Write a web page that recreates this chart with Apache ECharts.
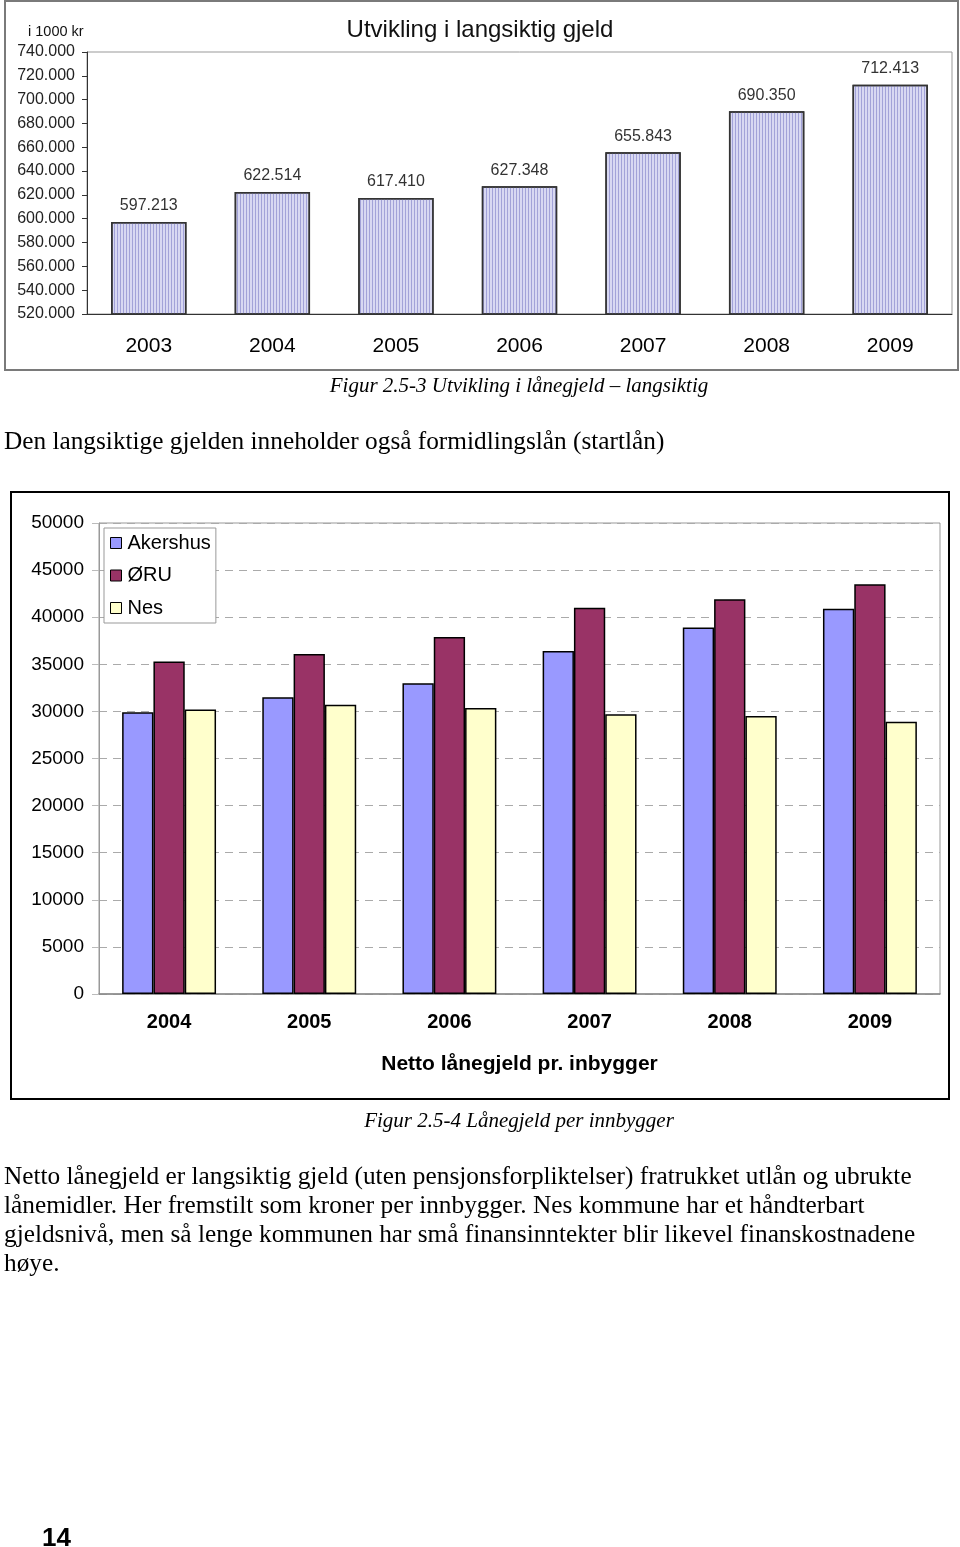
<!DOCTYPE html>
<html>
<head>
<meta charset="utf-8">
<script src="https://cdn.jsdelivr.net/npm/echarts@6/dist/echarts.min.js"></script>
<style>
  html, body { margin: 0; padding: 0; background: #fff; }
  #wrap { position: relative; width: 960px; height: 1547px; overflow: hidden; }
  #chart { position: absolute; left: 0; top: 0; width: 960px; height: 1547px; }
  .t { position: absolute; font-family: "Liberation Serif", "Times New Roman", serif; color: #000; white-space: nowrap; }
</style>
</head>
<body>
<div id="wrap">
  <div id="chart"></div>
  <div class="t" style="left:0;width:1038px;text-align:center;top:372px;font-size:21px;font-style:italic;line-height:26px;">Figur 2.5-3 Utvikling i lånegjeld – langsiktig</div>
  <div class="t" style="left:4px;top:426px;font-size:25.3px;line-height:29px;">Den langsiktige gjelden inneholder også formidlingslån (startlån)</div>
  <div class="t" style="left:0;width:1038px;text-align:center;top:1107px;font-size:21px;font-style:italic;line-height:26px;">Figur 2.5-4 Lånegjeld per innbygger</div>
  <div class="t" style="left:4px;top:1161px;font-size:25.3px;line-height:29px;">Netto lånegjeld er langsiktig gjeld (uten pensjonsforpliktelser) fratrukket utlån og ubrukte<br>lånemidler. Her fremstilt som kroner per innbygger. Nes kommune har et håndterbart<br>gjeldsnivå, men så lenge kommunen har små finansinntekter blir likevel finanskostnadene<br>høye.</div>
  <div style="position:absolute;left:42px;top:1522px;font-family:'Liberation Sans',Arial,sans-serif;font-weight:bold;font-size:26px;line-height:30px;">14</div>
</div>
<script>
// ---- Chart 1: Utvikling i langsiktig gjeld (i 1000 kr, shown as thousands) ----
const years1 = ['2003', '2004', '2005', '2006', '2007', '2008', '2009'];
const gjeld = [597.213, 622.514, 617.410, 627.348, 655.843, 690.350, 712.413];

// ---- Chart 2: Netto lånegjeld pr. inbygger ----
const years2 = ['2004', '2005', '2006', '2007', '2008', '2009'];
const akershus = [29900, 31500, 33000, 36400, 38900, 40900];
const oru = [35300, 36100, 37900, 41000, 41900, 43500];
const nes = [30200, 30700, 30350, 29700, 29500, 28900];
const seriesNames = ['Akershus', 'ØRU', 'Nes'];

const sans = '"Liberation Sans", Arial, sans-serif';
const chart = echarts.init(document.getElementById('chart'), null, { renderer: 'canvas' });

chart.setOption({
  animation: false,
  textStyle: { fontFamily: sans },
  title: [
    { text: 'Utvikling i langsiktig gjeld', left: 'center', top: 13,
      textStyle: { fontFamily: sans, fontSize: 24, fontWeight: 'normal', color: '#111' } },
    { text: 'i 1000 kr', left: 23, top: 19,
      textStyle: { fontFamily: sans, fontSize: 14.5, fontWeight: 'normal', color: '#111' } }
  ],
  legend: {
    data: seriesNames,
    orient: 'vertical',
    left: 104, top: 528,
    itemWidth: 11, itemHeight: 11, itemGap: 12.5,
    padding: [5, 5, 5, 6],
    backgroundColor: '#fff',
    borderColor: '#999', borderWidth: 1,
    icon: 'rect',
    itemStyle: { borderColor: '#000', borderWidth: 1 },
    textStyle: { fontFamily: sans, fontSize: 20, color: '#000', padding: [0, 0, 0, 1] }
  },
  graphic: [
    { type: 'rect', z: -10, shape: { x: 5, y: 1, width: 953, height: 369 },
      style: { fill: 'none', stroke: '#7a7a7a', lineWidth: 2 } },
    { type: 'rect', z: -10, shape: { x: 11, y: 492, width: 938, height: 607 },
      style: { fill: 'none', stroke: '#000', lineWidth: 2 } }
  ],
  grid: [
    { left: 87, top: 52, width: 865, height: 262, show: true, borderColor: '#999', borderWidth: 1, containLabel: false },
    { left: 99, top: 523, width: 841, height: 471, show: true, borderColor: '#999', borderWidth: 1, containLabel: false }
  ],
  xAxis: [
    { type: 'category', gridIndex: 0, data: years1,
      axisLine: { lineStyle: { color: '#333', width: 1 } },
      axisTick: { length: 6, lineStyle: { color: '#333' } },
      axisLabel: { fontSize: 21, color: '#000', margin: 22 } },
    { type: 'category', gridIndex: 1, data: years2,
      axisLine: { lineStyle: { color: '#888', width: 1.5 } },
      axisTick: { length: 43, lineStyle: { color: '#bbb' } },
      axisLabel: { fontSize: 20, fontWeight: 'bold', color: '#000', margin: 18 } },
    { type: 'category', gridIndex: 1, data: ['Netto lånegjeld pr. inbygger'], position: 'bottom',
      axisLine: { show: false },
      axisTick: { length: 84, lineStyle: { color: '#bbb' } },
      axisLabel: { fontSize: 21, fontWeight: 'bold', color: '#000', margin: 60 } }
  ],
  yAxis: [
    { type: 'value', gridIndex: 0, min: 520, max: 740, interval: 20,
      axisLine: { show: true, lineStyle: { color: '#333' } },
      axisTick: { show: true, length: 5, lineStyle: { color: '#333' } },
      splitLine: { show: false },
      axisLabel: { fontSize: 16, color: '#222', margin: 12, formatter: v => v.toFixed(3) } },
    { type: 'value', gridIndex: 1, min: 0, max: 50000, interval: 5000,
      axisLine: { show: true, lineStyle: { color: '#999' } },
      axisTick: { show: true, length: 7, lineStyle: { color: '#bbb' } },
      splitLine: { show: true, lineStyle: { color: '#aaa', type: [8, 6], width: 1 } },
      axisLabel: { fontSize: 19, color: '#000', margin: 15, formatter: v => String(v) } }
  ],
  series: [
    { name: 'Langsiktig gjeld', type: 'bar', xAxisIndex: 0, yAxisIndex: 0, data: gjeld,
      barWidth: '61%',
      itemStyle: {
        color: '#d8d8f2',
        decal: { symbol: 'rect', symbolSize: 1, dashArrayX: [1, 2], dashArrayY: [10, 0], color: 'rgba(140,140,205,0.7)' },
        borderColor: '#333', borderWidth: 1.5 },
      label: { show: true, position: 'top', distance: 8, fontSize: 16, color: '#333', fontFamily: sans,
        formatter: p => p.value.toFixed(3) } },
    { name: 'Akershus', type: 'bar', xAxisIndex: 1, yAxisIndex: 1, data: akershus,
      barGap: '0%', barCategoryGap: '33%',
      itemStyle: { color: '#9999ff', borderColor: '#000', borderWidth: 1.5 } },
    { name: 'ØRU', type: 'bar', xAxisIndex: 1, yAxisIndex: 1, data: oru,
      barGap: '0%', barCategoryGap: '33%',
      itemStyle: { color: '#993366', borderColor: '#000', borderWidth: 1.5 } },
    { name: 'Nes', type: 'bar', xAxisIndex: 1, yAxisIndex: 1, data: nes,
      barGap: '0%', barCategoryGap: '33%',
      itemStyle: { color: '#ffffcc', borderColor: '#000', borderWidth: 1.5 } }
  ]
});
</script>
</body>
</html>
